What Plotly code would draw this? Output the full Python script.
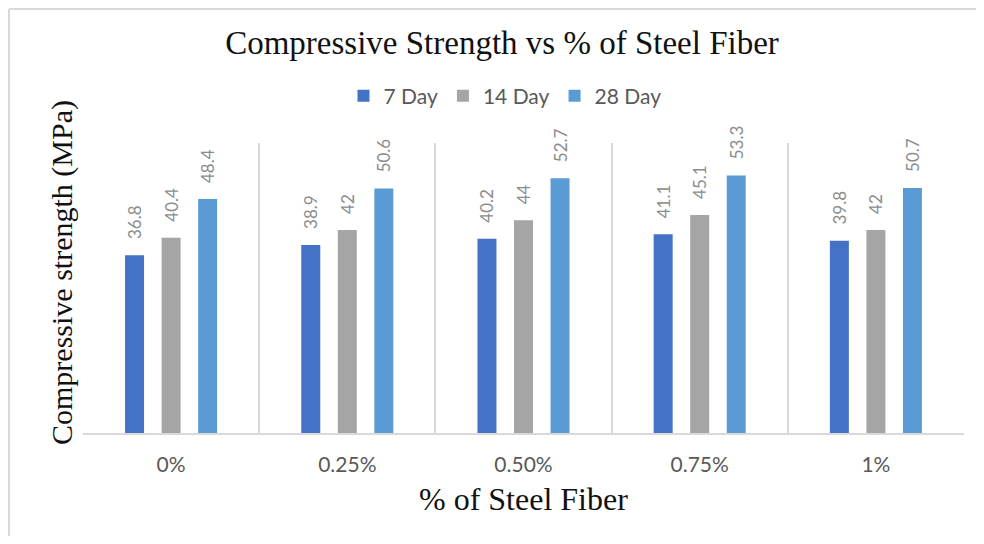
import plotly.graph_objects as go

categories = ["0%", "0.25%", "0.50%", "0.75%", "1%"]
day7 = [36.8, 38.9, 40.2, 41.1, 39.8]
day14 = [40.4, 42, 44, 45.1, 42]
day28 = [48.4, 50.6, 52.7, 53.3, 50.7]
series_names = ["7 Day", "14 Day", "28 Day"]
colors = ["#4472C4", "#A5A5A5", "#5B9BD5"]

# page has an 8px body margin: figure drawn at (8, 8)
OFF = 8
W, H = 984 - 2 * OFF, 544 - 2 * OFF
L, T = 83 - OFF, 143 - OFF
R = W - (964 - OFF)
B = H - (433 - OFF)
pw, ph = W - L - R, H - T - B

def px_x(x):  # page x -> paper
    return (x - OFF - L) / pw

def px_y(y):  # page y -> paper
    return (H - B - (y - OFF)) / ph

NB = "\u00a0" * 3

fig = go.Figure()
for name, vals, col in zip(series_names, [day7, day14, day28], colors):
    fig.add_trace(go.Bar(
        x=categories, y=vals, name=name, marker_color=col, marker_line_width=0,
        text=[NB + f"{v:g}" for v in vals], textposition="outside", textangle=-90,
        textfont=dict(family="Lato", size=17, color="#8c8c8c"),
        cliponaxis=False, constraintext="none",
    ))

fig.update_layout(
    width=W, height=H,
    margin=dict(l=L, r=R, t=T, b=B),
    paper_bgcolor="white", plot_bgcolor="white",
    barmode="group", bargap=0.378, bargroupgap=0.48,
    title=dict(text="Compressive Strength vs % of Steel Fiber",
               font=dict(family="Liberation Serif", size=33, color="#111111"),
               x=(502 - OFF) / W, xref="container", xanchor="center",
               y=1 - (42 - OFF) / H, yref="container", yanchor="middle"),
    legend=dict(orientation="h", x=px_x(505), xanchor="center",
                y=px_y(96), yanchor="middle",
                font=dict(family="Lato", size=21, color="#595959"),
                itemclick=False),
    showlegend=True,
    xaxis=dict(type="category", tickson="boundaries", showgrid=True,
               gridcolor="#d9d9d9", gridwidth=2, showline=True,
               linecolor="#d9d9d9", linewidth=2, ticks="",
               tickfont=dict(family="Lato", size=21, color="#595959"),
               ticklabelstandoff=12),
    yaxis=dict(range=[0, 60], showgrid=False, showticklabels=False,
               zeroline=False, showline=False, ticks=""),
    annotations=[
        dict(text="Compressive strength (MPa)", textangle=-90,
             xref="paper", yref="paper", x=px_x(62), y=px_y(273),
             xanchor="center", yanchor="middle", showarrow=False,
             font=dict(family="Liberation Serif", size=30, color="#111111")),
        dict(text="% of Steel Fiber",
             xref="paper", yref="paper", x=px_x(523), y=px_y(499),
             xanchor="center", yanchor="middle", showarrow=False,
             font=dict(family="Liberation Serif", size=32, color="#111111")),
    ],
    shapes=[
        dict(type="line", xref="paper", yref="paper",
             x0=px_x(9), x1=px_x(984), y0=px_y(9), y1=px_y(9),
             line=dict(color="#d9d9d9", width=2), layer="below"),
        dict(type="line", xref="paper", yref="paper",
             x0=px_x(9), x1=px_x(9), y0=px_y(9), y1=px_y(544),
             line=dict(color="#d9d9d9", width=2), layer="below"),
    ],
)

fig.write_html("out.html")
